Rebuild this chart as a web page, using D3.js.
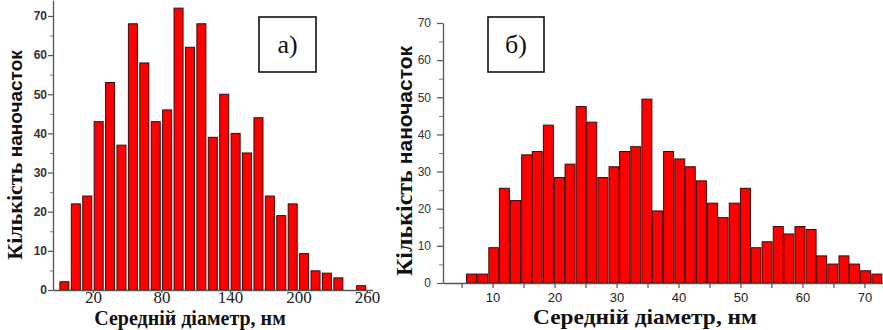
<!DOCTYPE html>
<html>
<head>
<meta charset="utf-8">
<script src="https://cdn.jsdelivr.net/npm/d3@7"></script>
<style>
  body { margin: 0; background: #fff; }
  svg { display: block; }
</style>
</head>
<body>
<svg id="chart" width="883" height="330"></svg>
<script>
// panel а) : bin centres (nm) and particle counts
const binsA = [-5, 5, 15, 25, 35, 45, 55, 65, 75, 85, 95, 105, 115, 125, 135,
               145, 155, 165, 175, 185, 195, 205, 215, 225, 235, 245, 255];
const countsA = [2.1, 22, 24, 43, 53, 37, 68, 58, 43, 46, 72, 62, 68, 39, 50,
                 40, 35, 44, 24, 19, 22, 9.3, 4.9, 4.3, 3.1, 0, 1.1];
const xTicksA = [20, 80, 140, 200, 260];

// panel б)
const binsB = [6.6, 8.4, 10.2, 11.9, 13.7, 15.5, 17.2, 19.0, 20.8, 22.5, 24.3, 26.0,
               27.8, 29.6, 31.3, 33.1, 34.9, 36.6, 38.4, 40.2, 41.9, 43.7, 45.5, 47.2,
               49.0, 50.8, 52.5, 54.3, 56.1, 57.8, 59.6, 61.4, 63.1, 64.9, 66.7, 68.4,
               70.2, 72.0];
const countsB = [2.4, 2.4, 9.5, 25.5, 22.2, 34.5, 35.4, 42.5, 28.4, 32, 47.5, 43.3,
                 28.4, 31.3, 35.4, 36.7, 49.5, 19.4, 35.4, 33.4, 31.3, 27.5, 21.5, 17.6,
                 21.5, 25.5, 9.5, 11.1, 15.2, 13.2, 15.2, 14.4, 7.3, 5.1, 7.3, 5.1,
                 3.3, 2.4];
const xTicksB = [10, 20, 30, 40, 50, 60, 70];
const xMinorB = [5, 15, 25, 35, 45, 55, 65];

const yTicks = [0, 10, 20, 30, 40, 50, 60, 70];
const yMinor = [5, 15, 25, 35, 45, 55, 65];

const xTitle = "Середній діаметр, нм";
const yTitleA = "Кількість ";
const yTitleB = "наночасток";

const SERIF = "'Liberation Serif', 'DejaVu Serif', serif";
const SANS = "'Liberation Sans', 'DejaVu Sans', sans-serif";

const svg = d3.select("#chart");

function drawPanel(cfg) {
    const g = svg.append("g");

    const x = d3.scaleLinear().domain(cfg.xDomain).range(cfg.xRange);
    const y = d3.scaleLinear().domain(cfg.yDomain).range(cfg.yRange);

    // bars
    const barW = (x(cfg.binWidth) - x(0)) - cfg.gap;
    const bars = cfg.bins.map((c, i) => ({ c: c, v: cfg.counts[i] }))
                         .filter(d => d.v > 0);

    g.selectAll(".bar")
        .data(bars)
        .join("rect")
        .attr("class", "bar")
        .attr("x", d => x(d.c) - barW / 2)
        .attr("y", d => y(d.v))
        .attr("width", barW)
        .attr("height", d => y(0) - y(d.v))
        .attr("fill", "#ff0000")
        .attr("stroke", "#3a0a0a")
        .attr("stroke-width", 1);

    // y axis
    const yAxis = g.append("g")
        .attr("transform", `translate(${cfg.xRange[0]},0)`)
        .call(d3.axisLeft(y)
            .tickValues(yTicks)
            .tickSize(cfg.yTickLen)
            .tickSizeOuter(0)
            .tickPadding(cfg.yPad));
    yAxis.select(".domain").attr("stroke", "#555").attr("stroke-width", 1.3);
    yAxis.selectAll(".tick line").attr("stroke", "#555").attr("stroke-width", 1.2);
    yAxis.selectAll("text")
        .attr("fill", "#333")
        .attr("font-family", null)
        .style("font-family", SANS)
        .style("font-weight", cfg.yLabelWeight)
        .style("font-size", "12px");

    const yMin = g.append("g")
        .attr("transform", `translate(${cfg.xRange[0]},0)`)
        .call(d3.axisLeft(y).tickValues(yMinor).tickSize(cfg.yMinorLen).tickFormat(""));
    yMin.select(".domain").remove();
    yMin.selectAll(".tick line").attr("stroke", "#777").attr("stroke-width", 1);

    // x axis
    const xAxis = g.append("g")
        .attr("transform", `translate(0,${y(0)})`)
        .call(d3.axisBottom(x)
            .tickValues(cfg.xTicks)
            .tickSize(cfg.xTickLen)
            .tickSizeOuter(0)
            .tickPadding(cfg.xPad));
    xAxis.attr("font-family", null);
    xAxis.select(".domain").attr("stroke", "#555").attr("stroke-width", 1.3);
    xAxis.selectAll(".tick line").attr("stroke", "#555").attr("stroke-width", 1.2);
    xAxis.selectAll("text")
        .attr("fill", "#222")
        .style("font-family", cfg.xLabelFont)
        .style("font-size", cfg.xLabelSize);

    if (cfg.xMinor) {
        const xMin = g.append("g")
            .attr("transform", `translate(0,${y(0)})`)
            .call(d3.axisBottom(x).tickValues(cfg.xMinor).tickSize(cfg.xTickLen).tickFormat(""));
        xMin.select(".domain").remove();
        xMin.selectAll(".tick line").attr("stroke", "#555").attr("stroke-width", 1.2);
    }

    // axis titles
    const xt = g.append("text")
        .attr("x", cfg.xTitlePos[0])
        .attr("y", cfg.xTitlePos[1])
        .attr("text-anchor", "middle")
        .attr("fill", "#111")
        .style("font-family", SERIF)
        .style("font-weight", "bold")
        .style("font-size", cfg.xTitleSize)
        .text(xTitle);
    if (cfg.xTitleLen) {
        xt.attr("textLength", cfg.xTitleLen).attr("lengthAdjust", "spacingAndGlyphs");
    }

    const yt = g.append("text")
        .attr("transform", `translate(${cfg.yTitlePos[0]},${cfg.yTitlePos[1]}) rotate(-90)`)
        .attr("text-anchor", "middle")
        .attr("fill", "#111")
        .style("font-weight", "bold");
    yt.append("tspan")
        .style("font-family", SERIF)
        .style("font-size", cfg.yTitleSize[0])
        .text(yTitleA);
    yt.append("tspan")
        .style("font-family", SANS)
        .style("font-size", cfg.yTitleSize[1])
        .text(yTitleB);

    // panel letter box
    const b = cfg.box;
    g.append("rect")
        .attr("x", b.x).attr("y", b.y)
        .attr("width", b.w).attr("height", b.h)
        .attr("fill", "#fff")
        .attr("stroke", "#111")
        .attr("stroke-width", 1.6);
    g.append("text")
        .attr("x", b.x + b.w / 2)
        .attr("y", b.y + b.h / 2)
        .attr("text-anchor", "middle")
        .attr("dominant-baseline", "central")
        .attr("fill", "#111")
        .style("font-family", SERIF)
        .style("font-size", "26px")
        .text(b.label);
}

drawPanel({
    bins: binsA, counts: countsA, binWidth: 10, gap: 2.4,
    xDomain: [-15, 265], xRange: [53, 372.6],
    yDomain: [0, 74], yRange: [290, 0.3],
    xTicks: xTicksA, xTickLen: 3, xPad: -2,
    xLabelFont: SERIF, xLabelSize: "17px",
    yTickLen: 5, yMinorLen: 3, yPad: 1, yLabelWeight: "bold",
    xTitlePos: [190, 325], xTitleSize: "20px",
    yTitlePos: [22, 155], yTitleSize: ["22px", "19px"],
    box: { x: 259, y: 17, w: 57, h: 55, label: "а)" }
});

drawPanel({
    bins: binsB, counts: countsB, binWidth: 1.77, gap: 1,
    xDomain: [2, 73], xRange: [443, 883],
    yDomain: [0, 70], yRange: [283, 23],
    xTicks: xTicksB, xMinor: xMinorB, xTickLen: 5, xPad: 5,
    xLabelFont: SANS, xLabelSize: "13px",
    yTickLen: 6, yMinorLen: 4, yPad: 6, yLabelWeight: "normal",
    xTitlePos: [645, 324], xTitleSize: "21px", xTitleLen: 224,
    yTitlePos: [412, 161], yTitleSize: ["24px", "21px"],
    box: { x: 488, y: 17, w: 56, h: 55, label: "б)" }
});
</script>
</body>
</html>
